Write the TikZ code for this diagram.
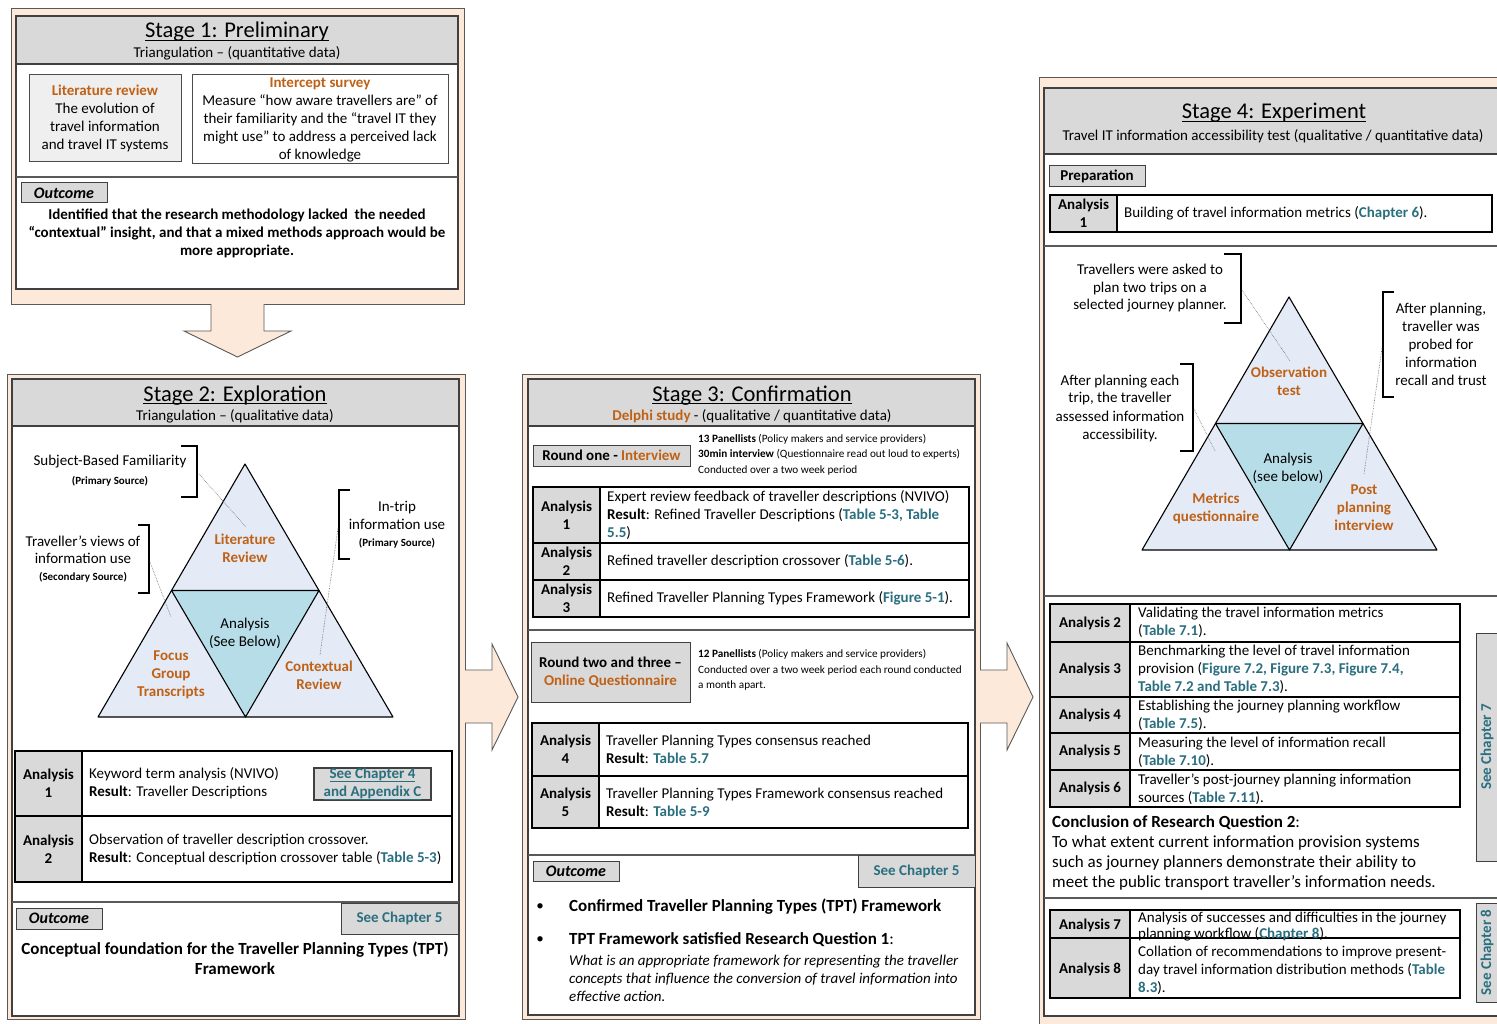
\documentclass[tikz,border=0pt]{standalone}
\usepackage{fontspec}
\setmainfont{Carlito}
\usetikzlibrary{calc}

\definecolor{peach}{HTML}{FDE9D9}
\definecolor{hdr}{HTML}{D9D9D9}
\definecolor{litegray}{HTML}{EFEFEF}
\definecolor{orng}{HTML}{BF6116}
\definecolor{teallink}{HTML}{2A6F80}
\definecolor{trilight}{HTML}{E4EBF6}
\definecolor{triaqua}{HTML}{B7DEE8}

\newcommand{\lnk}[1]{\textcolor{teallink}{\bfseries #1}}
\newcommand{\org}[1]{\textcolor{orng}{\bfseries #1}}
% word-processor style underline: a rule just below the baseline
\newsavebox{\ulinebox}
\newcommand{\uline}[2][0.9pt]{\sbox{\ulinebox}{#2}\rlap{\rule[-2.6pt]{\wd\ulinebox}{#1}}\usebox{\ulinebox}}

\tikzset{
  txt/.style={inner sep=0pt, font=\fontsize{15}{18}\selectfont},
  txtb/.style={inner sep=0pt, font=\fontsize{15}{18}\selectfont\bfseries},
  orlab/.style={inner sep=0pt, font=\fontsize{15}{18}\selectfont\bfseries, text=orng, align=center},
  big/.style={inner sep=0pt, font=\fontsize{17}{20}\selectfont},
  bigb/.style={inner sep=0pt, font=\fontsize{17}{20}\selectfont\bfseries},
  ttl/.style={inner sep=0pt, anchor=base, font=\fontsize{22.5}{26}\selectfont},
  sml/.style={inner sep=0pt, font=\fontsize{11.2}{15.5}\selectfont},
  smlb/.style={inner sep=0pt, font=\fontsize{11}{13}\selectfont\bfseries},
  stageouter/.style={fill=peach, draw=black!65, line width=0.9pt},
  stageinner/.style={fill=white, draw=black!75, line width=1.2pt},
  header/.style={fill=hdr, draw=black!75, line width=1.2pt},
  tag/.style={draw=black!75, fill=hdr, line width=1pt, inner sep=0pt},
  outtag/.style={tag, font=\fontsize{16}{18}\selectfont\bfseries\itshape},
  chaptag/.style={tag, text=teallink, font=\fontsize{15}{18}\selectfont\bfseries},
  grid/.style={draw=black, line width=1.8pt},
  cellfill/.style={fill=hdr},
  sep/.style={draw=black!65, line width=1.1pt},
  brk/.style={draw=black, line width=1.1pt},
  lead/.style={draw=black!60, densely dotted, line width=0.6pt},
  tri/.style={draw=black, line width=1.1pt, line join=round},
  bigarrow/.style={draw=black!65, line width=0.9pt},
}

\begin{document}
\begin{tikzpicture}[x=1pt, y=-1pt]
\useasboundingbox (0,0) rectangle (1497,1024);
\clip (0,0) rectangle (1497,1024);
\fill[white] (0,0) rectangle (1497,1024);

% ---------------- Stage 1 ----------------
\draw[stageouter] (11,8) rectangle (464,304);
\draw[stageinner] (16,16) rectangle (458,289);
\draw[header] (16,16) rectangle (458,64);
\node[ttl] (s1title) at (237,38) {\uline{Stage 1: Preliminary}};
\node[txt] (s1sub) at (237,53) {Triangulation – (quantitative data)};
\node[txt, draw=black!70, fill=litegray, line width=1pt, minimum width=152pt, minimum height=87pt, align=center] (litrev) at (105,118.5)
  {\org{Literature review}\\The evolution of\\travel information\\and travel IT systems};
\node[txt, draw=black!70, fill=white, line width=1pt, minimum width=256pt, minimum height=89pt, align=center] (survey) at (320,119.5)
  {\org{Intercept survey}\\Measure “how aware travellers are” of\\their familiarity and the “travel IT they\\might use” to address a perceived lack\\of knowledge};
\draw[sep] (16,177) -- (458,177);
\node[outtag, minimum width=86pt, minimum height=20pt] (s1out) at (64,193) {Outcome};
\node[txtb, align=center] (s1res) at (237,233)
  {Identified that the research methodology lacked\ \ the needed\\“contextual” insight, and that a mixed methods approach would be\\more appropriate.};

% arrow from stage 1 down to stage 2
\fill[peach] (211,303) -- (211,331) -- (184,331) -- (237.5,357) -- (291,331) -- (264,331) -- (264,303) -- cycle;
\draw[bigarrow] (211,304) -- (211,331) -- (184,331) -- (237.5,357) -- (291,331) -- (264,331) -- (264,304);

% ---------------- Stage 2 ----------------
\draw[stageouter] (7,374) rectangle (465,1019);
\draw[stageinner] (12,379) rectangle (459,1016);
\draw[header] (12,379) rectangle (459,426);
\node[ttl] (s2title) at (235,401) {\uline{Stage 2: Exploration}};
\node[txt] (s2sub) at (235,416) {Triangulation – (qualitative data)};

% triangulation triangle
\coordinate (A2) at (245,464);
\coordinate (L2) at (98,717);
\coordinate (R2) at (393,717);
\coordinate (ML2) at ($(A2)!0.5!(L2)$);
\coordinate (MR2) at ($(A2)!0.5!(R2)$);
\coordinate (MB2) at ($(L2)!0.5!(R2)$);
\draw[tri, fill=trilight] (A2) -- (L2) -- (R2) -- cycle;
\draw[tri, fill=triaqua] (ML2) -- (MR2) -- (MB2) -- cycle;
\node[orlab] (lit2) at (245,548) {Literature\\Review};
\node[txt, align=center] (anal2) at (245,633) {Analysis\\(See Below)};
\node[orlab] (focus2) at (171,675) {Focus\\Group\\Transcripts};
\node[orlab] (ctx2) at (319,675) {Contextual\\Review};

% side notes with brackets
\draw[brk] (181,446) -- (197,446) -- (197,497) -- (181,497);
\node[txt] (sbf) at (110,462) {Subject-Based Familiarity};
\node[smlb] (sbfsrc) at (110,481) {(Primary Source)};
\coordinate (sbfk) at (199,474);
\coordinate (lit2k) at (246,527);
\draw[lead] (sbfk) -- (lit2k);

\draw[brk] (138,525) -- (149,525) -- (149,593) -- (138,593);
\node[txt, align=center, font=\fontsize{15}{17}\selectfont] (tvw) at (83,549.5) {Traveller’s views of\\information use};
\node[smlb] (tvwsrc) at (83,577) {(Secondary Source)};
\coordinate (tvwk) at (150,562);
\coordinate (focus2k) at (171,617);
\draw[lead] (tvwk) -- (focus2k);

\draw[brk] (350,490) -- (339,490) -- (339,559) -- (350,559);
\node[txt, align=center] (itu) at (397,515) {In-trip\\information use};
\node[smlb] (itusrc) at (397,543) {(Primary Source)};
\coordinate (ituk) at (338,528);
\coordinate (ctx2k) at (320,655);
\draw[lead] (ituk) -- (ctx2k);

% analysis table
\fill[cellfill] (15,751) rectangle (82,882);
\draw[grid] (15,751) rectangle (452,882);
\draw[grid] (82,751) -- (82,882);
\draw[grid] (15,816) -- (452,816);
\node[txtb, align=center] (s2a1) at (48.5,783) {Analysis\\1};
\node[txtb, align=center] (s2a2) at (48.5,849) {Analysis\\2};
\node[txt, align=left, anchor=west] (s2r1) at (89,783) {Keyword term analysis (NVIVO)\\\textbf{Result}: Traveller Descriptions};
\node[chaptag, line width=1.5pt, minimum width=117pt, minimum height=32pt, align=center] (s2c4) at (372.5,784) {\uline[0.7pt]{See Chapter 4}\\\uline[0.7pt]{and Appendix C}};
\node[txt, align=left, anchor=west] (s2r2) at (89,849) {Observation of traveller description crossover.\\\textbf{Result}: Conceptual description crossover table (\lnk{Table 5-3})};

\draw[sep] (12,902) -- (459,902);
\node[outtag, minimum width=86pt, minimum height=21pt] (s2out) at (59,918.5) {Outcome};
\node[chaptag, minimum width=117pt, minimum height=31pt] (s2c5) at (399.5,918.5) {See Chapter 5};
\node[bigb, align=center] (s2res) at (235,958) {Conceptual foundation for the Traveller Planning Types (TPT)\\Framework};

% arrow from stage 2 to stage 3
\fill[peach] (464,670) -- (492,670) -- (492,644) -- (518,697) -- (492,750) -- (492,723) -- (464,723) -- cycle;
\draw[bigarrow] (465,670) -- (492,670) -- (492,644) -- (518,697) -- (492,750) -- (492,723) -- (465,723);

% ---------------- Stage 3 ----------------
\draw[stageouter] (522,374) rectangle (980,1019);
\draw[stageinner] (528,379) rectangle (975,1015);
\draw[header] (528,379) rectangle (975,426);
\node[ttl] (s3title) at (752,401) {\uline{Stage 3: Confirmation}};
\node[txt] (s3sub) at (752,416) {\org{Delphi study} - (qualitative / quantitative data)};

\node[tag, font=\fontsize{15}{18}\selectfont\bfseries, minimum width=157pt, minimum height=21pt] (round1) at (611.5,455.5) {Round one - \textcolor{orng}{Interview}};
\node[sml, align=left, anchor=west] (round1n) at (698,454.5)
  {\textbf{13 Panellists} (Policy makers and service providers)\\\textbf{30min interview} (Questionnaire read out loud to experts)\\Conducted over a two week period};

\fill[cellfill] (533,487) rectangle (600,617);
\draw[grid] (533,487) rectangle (969,617);
\draw[grid] (600,487) -- (600,617);
\draw[grid] (533,543) -- (969,543);
\draw[grid] (533,580) -- (969,580);
\node[txtb, align=center] (s3a1) at (566.5,515) {Analysis\\1};
\node[txtb, align=center] (s3a2) at (566.5,561.5) {Analysis\\2};
\node[txtb, align=center] (s3a3) at (566.5,598.5) {Analysis\\3};
\node[txt, align=left, anchor=west] (s3r1) at (607,515) {Expert review feedback of traveller descriptions (NVIVO)\\\textbf{Result}: Refined Traveller Descriptions (\lnk{Table 5-3, Table}\\\lnk{5.5})};
\node[txt, anchor=west] (s3r2) at (607,561.5) {Refined traveller description crossover (\lnk{Table 5-6}).};
\node[txt, anchor=west] (s3r3) at (607,598.5) {Refined Traveller Planning Types Framework (\lnk{Figure 5-1}).};

\draw[sep] (528,630) -- (975,630);
\node[tag, font=\fontsize{15}{18}\selectfont\bfseries, align=center, minimum width=159pt, minimum height=60pt] (round2) at (610.5,672) {Round two and three –\\\textcolor{orng}{Online Questionnaire}};
\node[sml, align=left, anchor=west] (round2n) at (698,670)
  {\textbf{12 Panellists} (Policy makers and service providers)\\Conducted over a two week period each round conducted\\a month apart.};

\fill[cellfill] (532,723) rectangle (599,828);
\draw[grid] (532,723) rectangle (968,828);
\draw[grid] (599,723) -- (599,828);
\draw[grid] (532,776) -- (968,776);
\node[txtb, align=center] (s3a4) at (565.5,749.5) {Analysis\\4};
\node[txtb, align=center] (s3a5) at (565.5,802) {Analysis\\5};
\node[txt, align=left, anchor=west] (s3r4) at (606,749.5) {Traveller Planning Types consensus reached\\\textbf{Result}: \lnk{Table 5.7}};
\node[txt, align=left, anchor=west] (s3r5) at (606,802) {Traveller Planning Types Framework consensus reached\\\textbf{Result}: \lnk{Table 5-9}};

\draw[sep] (528,855) -- (975,855);
\node[outtag, minimum width=86pt, minimum height=20pt] (s3out) at (576,871) {Outcome};
\node[chaptag, minimum width=117pt, minimum height=32pt] (s3c5) at (916.5,871) {See Chapter 5};
\node[txt] (bul1) at (540,907) {\textbullet};
\node[bigb, anchor=west] (s3res1) at (569,907) {Confirmed Traveller Planning Types (TPT) Framework};
\node[txt] (bul2) at (540,940) {\textbullet};
\node[big, anchor=west] (s3res2) at (569,940) {\textbf{TPT Framework satisfied Research Question 1}:};
\node[txt, align=left, anchor=west, font=\fontsize{15}{18}\selectfont\itshape] (s3rq) at (569,978)
  {What is an appropriate framework for representing the traveller\\concepts that influence the conversion of travel information into\\effective action.};

% arrow from stage 3 to stage 4
\fill[peach] (979,670) -- (1007,670) -- (1007,643) -- (1033,697) -- (1007,750) -- (1007,723) -- (979,723) -- cycle;
\draw[bigarrow] (980,670) -- (1007,670) -- (1007,643) -- (1033,697) -- (1007,750) -- (1007,723) -- (980,723);

% ---------------- Stage 4 ----------------
\draw[stageouter] (1039,77) rectangle (1520,1040);
\draw[stageinner] (1044,88) rectangle (1510,1016);
\draw[header] (1044,88) rectangle (1510,154);
\node[ttl] (s4title) at (1274,119) {\uline{Stage 4: Experiment}};
\node[txt] (s4sub) at (1273,136) {Travel IT information accessibility test (qualitative / quantitative data)};

\node[tag, font=\fontsize{15}{18}\selectfont\bfseries, minimum width=96pt, minimum height=21pt] (prep) at (1097,176.5) {Preparation};
\fill[cellfill] (1050,195) rectangle (1117,232);
\draw[grid] (1050,195) rectangle (1492,232);
\draw[grid] (1117,195) -- (1117,232);
\node[txtb, align=center] (s4a1) at (1083.5,213.5) {Analysis\\1};
\node[txt, anchor=west] (s4r1) at (1124,213) {Building of travel information metrics (\lnk{Chapter 6}).};
\draw[sep] (1044,246) -- (1510,246);

% experiment triangle
\coordinate (A4) at (1289,297);
\coordinate (L4) at (1142,550);
\coordinate (R4) at (1437,550);
\coordinate (ML4) at ($(A4)!0.5!(L4)$);
\coordinate (MR4) at ($(A4)!0.5!(R4)$);
\coordinate (MB4) at ($(L4)!0.5!(R4)$);
\draw[tri, fill=trilight] (A4) -- (L4) -- (R4) -- cycle;
\draw[tri, fill=triaqua] (ML4) -- (MR4) -- (MB4) -- cycle;
\node[orlab] (obs4) at (1289,381) {Observation\\test};
\node[txt, align=center] (anal4) at (1288,468) {Analysis\\(see below)};
\node[orlab] (metr4) at (1216,508) {Metrics\\questionnaire};
\node[orlab] (post4) at (1364,508) {Post\\planning\\interview};

\draw[brk] (1224,254) -- (1241,254) -- (1241,323) -- (1224,323);
\node[txt, align=center, font=\fontsize{15}{17.5}\selectfont] (plan4) at (1150,288.5) {Travellers were asked to\\plan two trips on a\\selected journey planner.};
\coordinate (plan4k) at (1242,290);
\coordinate (obs4k) at (1290,361);
\draw[lead] (plan4k) -- (obs4k);

\draw[brk] (1180,364) -- (1193,364) -- (1193,451) -- (1180,451);
\node[txt, align=center] (acc4) at (1120,408) {After planning each\\trip, the traveller\\assessed information\\accessibility.};
\coordinate (acc4k) at (1194,409);
\coordinate (metr4k) at (1215,451);
\draw[lead] (acc4k) -- (metr4k);

\draw[brk] (1394,292) -- (1383,292) -- (1383,397) -- (1394,397);
\node[txt, align=center] (recall4) at (1441,344) {After planning,\\traveller was\\probed for\\information\\recall and trust};
\coordinate (recall4k) at (1382,348);
\coordinate (post4k) at (1364,474);
\draw[lead] (recall4k) -- (post4k);

\draw[sep] (1044,596) -- (1510,596);

% analyses 2-6
\fill[cellfill] (1050,604) rectangle (1130,807);
\draw[grid] (1050,604) rectangle (1460,807);
\draw[grid] (1130,604) -- (1130,807);
\draw[grid] (1050,642) -- (1460,642);
\draw[grid] (1050,697) -- (1460,697);
\draw[grid] (1050,733) -- (1460,733);
\draw[grid] (1050,770) -- (1460,770);
\node[txtb] (s4a2) at (1090,623) {Analysis 2};
\node[txtb] (s4a3) at (1090,669.5) {Analysis 3};
\node[txtb] (s4a4) at (1090,715) {Analysis 4};
\node[txtb] (s4a5) at (1090,751.5) {Analysis 5};
\node[txtb] (s4a6) at (1090,788.5) {Analysis 6};
\node[txt, align=left, anchor=west] (s4r2) at (1138,622) {Validating the travel information metrics\\(\lnk{Table 7.1}).};
\node[txt, align=left, anchor=west] (s4r3) at (1138,669) {Benchmarking the level of travel information\\provision (\lnk{Figure 7.2, Figure 7.3, Figure 7.4,}\\\lnk{Table 7.2 and Table 7.3}).};
\node[txt, align=left, anchor=west] (s4r4) at (1138,715) {Establishing the journey planning workflow\\(\lnk{Table 7.5}).};
\node[txt, align=left, anchor=west] (s4r5) at (1138,752) {Measuring the level of information recall\\(\lnk{Table 7.10}).};
\node[txt, align=left, anchor=west] (s4r6) at (1138,789) {Traveller’s post-journey planning information\\sources (\lnk{Table 7.11}).};

\node[big, anchor=west] (rq2h) at (1052,823) {\textbf{Conclusion of Research Question 2}:};
\node[big, align=left, anchor=west] (rq2) at (1052,863) {To what extent current information provision systems\\such as journey planners demonstrate their ability to\\meet the public transport traveller’s information needs.};
\node[chaptag, minimum width=228pt, minimum height=22pt, rotate=90] (s4c7) at (1487,747) {See Chapter 7};

\draw[sep] (1044,898) -- (1510,898);

% analyses 7-8
\fill[cellfill] (1050,910) rectangle (1130,998);
\draw[grid] (1050,910) rectangle (1460,998);
\draw[grid] (1130,910) -- (1130,998);
\draw[grid] (1050,938) -- (1460,938);
\node[txtb] (s4a7) at (1090,925) {Analysis 7};
\node[txtb] (s4a8) at (1090,969) {Analysis 8};
\node[txt, align=left, anchor=west, font=\fontsize{15}{16.5}\selectfont] (s4r7) at (1138,926.5) {Analysis of successes and difficulties in the journey\\planning workflow (\lnk{Chapter 8}).};
\node[txt, align=left, anchor=west] (s4r8) at (1138,970) {Collation of recommendations to improve present-\\day travel information distribution methods (\lnk{Table}\\\lnk{8.3}).};
\node[chaptag, minimum width=99pt, minimum height=22pt, rotate=90] (s4c8) at (1487,952.5) {See Chapter 8};
\end{tikzpicture}
\end{document}
